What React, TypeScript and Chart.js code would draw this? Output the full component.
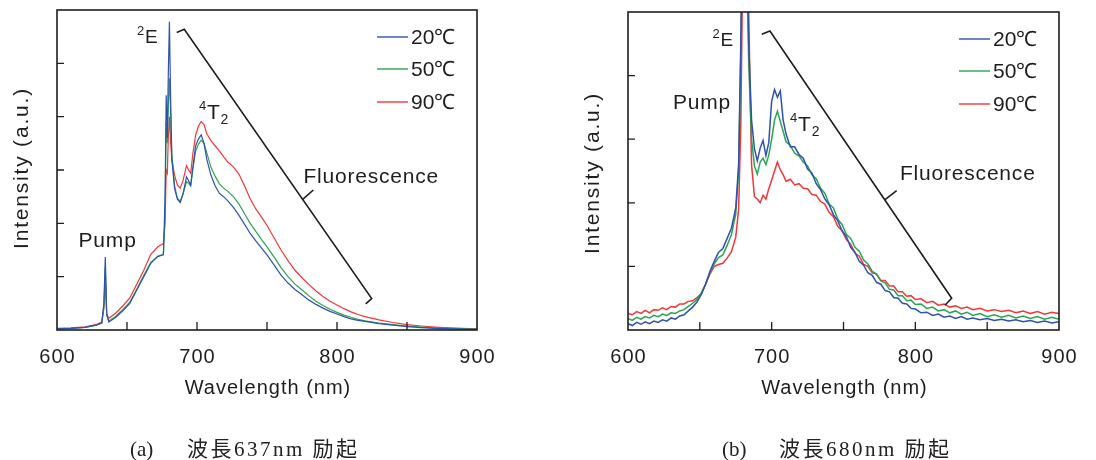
import React, { useEffect, useRef } from "react";
import { Chart, registerables } from "chart.js";
Chart.register(...registerables);

// ---------- data: chart (a) 637 nm excitation ----------
const wavelengthsA = [600, 610, 620, 628, 632, 633.5, 634.5, 635.5, 637, 642, 647, 652, 657, 662, 667, 672, 676, 677.2, 678, 678.8, 679.5, 680.3, 681, 682, 684, 686, 688, 690, 692.5, 694, 695.5, 697, 699, 701, 703, 705, 707, 710, 713, 716, 719, 722, 726, 730, 734, 738, 742, 746, 750, 755, 760, 765, 770, 775, 780, 785, 790, 795, 800, 805, 810, 815, 820, 830, 840, 850, 860, 870, 880, 890, 900];
const a20 = [0.02, 0.03, 0.05, 0.09, 0.13, 0.5, 1.37, 0.3, 0.15, 0.24, 0.36, 0.5, 0.75, 1.0, 1.25, 1.38, 1.41, 2.5, 4.4, 3.6, 4.8, 5.78, 4.6, 3.2, 2.65, 2.45, 2.39, 2.55, 2.87, 2.8, 2.72, 3.05, 3.45, 3.58, 3.66, 3.5, 3.2, 2.9, 2.7, 2.56, 2.5, 2.42, 2.3, 2.15, 1.98, 1.81, 1.67, 1.54, 1.41, 1.22, 1.03, 0.88, 0.76, 0.66, 0.56, 0.48, 0.41, 0.35, 0.3, 0.25, 0.21, 0.18, 0.16, 0.12, 0.09, 0.065, 0.045, 0.03, 0.02, 0.015, 0.01];
const a50 = [0.02, 0.03, 0.05, 0.09, 0.13, 0.45, 1.19, 0.28, 0.17, 0.26, 0.38, 0.52, 0.77, 1.02, 1.27, 1.38, 1.42, 2.2, 3.9, 3.5, 4.2, 4.72, 4.2, 3.3, 2.7, 2.47, 2.41, 2.55, 2.78, 2.75, 2.7, 3.0, 3.35, 3.48, 3.56, 3.5, 3.32, 3.05, 2.88, 2.74, 2.66, 2.6, 2.5, 2.36, 2.18, 2.0, 1.85, 1.7, 1.56, 1.37, 1.17, 1.0, 0.86, 0.75, 0.64, 0.54, 0.46, 0.39, 0.33, 0.28, 0.24, 0.2, 0.17, 0.13, 0.1, 0.075, 0.055, 0.04, 0.03, 0.02, 0.015];
const a90 = [0.03, 0.04, 0.06, 0.1, 0.15, 0.4, 0.94, 0.3, 0.22, 0.32, 0.45, 0.6, 0.86, 1.12, 1.42, 1.56, 1.62, 2.0, 3.0, 2.94, 3.6, 4.0, 3.6, 3.2, 2.9, 2.72, 2.66, 2.8, 3.08, 3.0, 2.94, 3.3, 3.65, 3.82, 3.91, 3.85, 3.68, 3.55, 3.45, 3.36, 3.25, 3.15, 3.06, 2.92, 2.7, 2.46, 2.27, 2.12, 1.96, 1.73, 1.5, 1.3, 1.12, 0.98, 0.85, 0.73, 0.63, 0.54, 0.47, 0.4, 0.34, 0.29, 0.25, 0.19, 0.14, 0.1, 0.075, 0.055, 0.04, 0.03, 0.02];

// ---------- data: chart (b) 680 nm excitation ----------
const wavelengthsB = [600, 603, 606, 609, 612, 615, 618, 621, 624, 627, 630, 633, 636, 639, 642, 645, 648, 651, 654, 657, 660, 663, 666, 669, 672, 675, 677, 678.5, 680, 682, 684, 686, 688, 690, 692, 694, 696, 698, 700, 702, 704, 706, 708, 710, 713, 716, 719, 722, 725, 728, 731, 734, 737, 740, 743, 746, 749, 752, 755, 758, 761, 764, 767, 770, 773, 776, 779, 782, 785, 788, 791, 794, 797, 800, 804, 808, 812, 816, 820, 824, 828, 832, 836, 840, 845, 850, 855, 860, 865, 870, 875, 880, 885, 890, 895, 900];
const b20 = [0.10, 0.07, 0.12, 0.09, 0.13, 0.10, 0.14, 0.12, 0.16, 0.14, 0.19, 0.17, 0.22, 0.24, 0.30, 0.36, 0.44, 0.56, 0.72, 0.92, 1.08, 1.22, 1.28, 1.44, 1.60, 1.92, 2.6, 4.5, 7, 7, 4.5, 3.3, 2.85, 2.66, 2.86, 2.98, 2.74, 2.95, 3.6, 3.78, 3.66, 3.76, 3.3, 3.08, 2.88, 2.88, 2.76, 2.70, 2.53, 2.47, 2.30, 2.21, 2.06, 1.97, 1.81, 1.72, 1.56, 1.47, 1.30, 1.22, 1.08, 1.02, 0.90, 0.86, 0.75, 0.72, 0.62, 0.60, 0.51, 0.50, 0.42, 0.41, 0.34, 0.33, 0.27, 0.28, 0.23, 0.25, 0.20, 0.22, 0.18, 0.21, 0.17, 0.19, 0.16, 0.18, 0.15, 0.17, 0.14, 0.16, 0.13, 0.15, 0.12, 0.14, 0.11, 0.13];
const b50 = [0.18, 0.15, 0.20, 0.17, 0.21, 0.19, 0.23, 0.21, 0.25, 0.23, 0.27, 0.26, 0.30, 0.32, 0.37, 0.42, 0.48, 0.58, 0.72, 0.90, 1.04, 1.14, 1.18, 1.33, 1.50, 1.82, 2.5, 4.3, 7, 7, 4.2, 3.0, 2.58, 2.45, 2.64, 2.70, 2.60, 2.75, 3.0, 3.3, 3.44, 3.28, 3.12, 2.96, 2.90, 2.78, 2.74, 2.64, 2.58, 2.44, 2.38, 2.23, 2.15, 1.98, 1.92, 1.74, 1.66, 1.50, 1.44, 1.30, 1.24, 1.10, 1.04, 0.92, 0.88, 0.77, 0.74, 0.64, 0.63, 0.54, 0.54, 0.46, 0.47, 0.40, 0.41, 0.34, 0.36, 0.30, 0.32, 0.27, 0.30, 0.25, 0.28, 0.23, 0.26, 0.21, 0.24, 0.20, 0.23, 0.19, 0.22, 0.18, 0.21, 0.17, 0.20, 0.17];
const b90 = [0.26, 0.24, 0.29, 0.26, 0.31, 0.27, 0.32, 0.31, 0.35, 0.32, 0.37, 0.36, 0.41, 0.41, 0.45, 0.46, 0.51, 0.57, 0.72, 0.88, 1.00, 1.03, 1.05, 1.13, 1.23, 1.46, 1.9, 3.2, 6, 7, 5, 2.6, 2.10, 2.06, 2.00, 2.12, 2.06, 2.22, 2.36, 2.50, 2.64, 2.52, 2.44, 2.34, 2.37, 2.28, 2.30, 2.23, 2.22, 2.13, 2.12, 2.02, 1.98, 1.85, 1.78, 1.63, 1.56, 1.42, 1.35, 1.21, 1.16, 1.03, 1.00, 0.90, 0.88, 0.78, 0.78, 0.69, 0.69, 0.60, 0.60, 0.53, 0.54, 0.48, 0.49, 0.43, 0.45, 0.39, 0.41, 0.36, 0.38, 0.34, 0.36, 0.32, 0.34, 0.30, 0.32, 0.29, 0.31, 0.27, 0.30, 0.26, 0.29, 0.25, 0.28, 0.26];

const seriesNames = ["20\u2103", "50\u2103", "90\u2103"];
const seriesColors = ["#2f52ad", "#2ba451", "#f0373a"];
const xTickLabels = [600, 700, 800, 900];
const xTickMarks = [650, 700, 750, 800, 850];
const yTicksA = [1, 2, 3, 4, 5];
const yTicksB = [1, 2, 3, 4];

type Part = { t: string; size: number; dy: number };
type Label = { x: number; y: number; parts: Part[] };
type Cfg = {
  yMax: number;
  yTicks: number[];
  bracket: number[][];
  brace: number[][];
  labels: Label[];
  titleYOffset: number;
  lineWidth: number;
};

const cfgA: Cfg = {
  yMax: 6,
  yTicks: yTicksA,
  bracket: [[685.5, 5.58], [690.9, 5.64], [824.8, 0.59], [820.5, 0.49]],
  brace: [[775.9, 2.46], [783.1, 2.625]],
  labels: [
    { x: 657.1, y: 5.387, parts: [{ t: "2", size: 13, dy: -8 }, { t: "E", size: 19, dy: 0 }] },
    { x: 701.4, y: 3.947, parts: [{ t: "4", size: 13, dy: -9 }, { t: "T", size: 21, dy: 0 }, { t: "2", size: 14, dy: 5 }] },
    { x: 615.4, y: 1.556, parts: [{ t: "Pump", size: 21, dy: 0 }] },
    { x: 776, y: 2.762, parts: [{ t: "Fluorescence", size: 21, dy: 0 }] },
  ],
  titleYOffset: -2,
  lineWidth: 1.2,
};

const cfgB: Cfg = {
  yMax: 5,
  yTicks: yTicksB,
  bracket: [[693.1, 4.65], [698.8, 4.7], [825.3, 0.5], [820.6, 0.39]],
  brace: [[778.9, 2.05], [787.0, 2.19]],
  labels: [
    { x: 658.8, y: 4.467, parts: [{ t: "2", size: 13, dy: -8 }, { t: "E", size: 19, dy: 0 }] },
    { x: 712.8, y: 3.135, parts: [{ t: "4", size: 13, dy: -9 }, { t: "T", size: 21, dy: 0 }, { t: "2", size: 14, dy: 5 }] },
    { x: 631.3, y: 3.48, parts: [{ t: "Pump", size: 21, dy: 0 }] },
    { x: 789.3, y: 2.351, parts: [{ t: "Fluorescence", size: 21, dy: 0 }] },
  ],
  titleYOffset: 2,
  lineWidth: 1.5,
};

const FONT = '"Liberation Sans", Arial, sans-serif';
const INK = "#1e1e1e";

function decorPlugin(cfg: Cfg) {
  return {
    id: "decor",
    afterDatasetsDraw(chart: any) {
      const { ctx, chartArea: ca, scales } = chart;
      const x = scales.x;
      const y = scales.y;
      const px = (v: number) => x.getPixelForValue(v);
      const py = (v: number) => y.getPixelForValue(v);
      ctx.save();
      ctx.strokeStyle = INK;
      ctx.fillStyle = INK;
      // frame
      ctx.lineWidth = 1.6;
      ctx.strokeRect(ca.left, ca.top, ca.right - ca.left, ca.bottom - ca.top);
      // ticks (inward)
      ctx.lineWidth = 1.3;
      ctx.beginPath();
      xTickMarks.forEach((v) => {
        ctx.moveTo(px(v), ca.bottom);
        ctx.lineTo(px(v), ca.bottom - 8);
      });
      cfg.yTicks.forEach((v) => {
        ctx.moveTo(ca.left, py(v));
        ctx.lineTo(ca.left + 7, py(v));
      });
      ctx.stroke();
      // tick labels
      (ctx as any).letterSpacing = "1px";
      ctx.font = `20px ${FONT}`;
      ctx.textAlign = "center";
      ctx.textBaseline = "middle";
      xTickLabels.forEach((v) => ctx.fillText(String(v), px(v) + 0.5, ca.bottom + 27));
      // axis titles
      ctx.textBaseline = "alphabetic";
      ctx.font = `20px ${FONT}`;
      ctx.fillText("Wavelength (nm)", (ca.left + ca.right) / 2 + 1, ca.bottom + 64);
      ctx.save();
      (ctx as any).letterSpacing = "1.8px";
      ctx.translate(ca.left - 35, (ca.top + ca.bottom) / 2 + cfg.titleYOffset);
      ctx.rotate(-Math.PI / 2);
      ctx.textBaseline = "middle";
      ctx.font = `21px ${FONT}`;
      ctx.fillText("Intensity (a.u.)", 0, 0);
      ctx.restore();
      // bracket
      ctx.lineWidth = 1.6;
      ctx.beginPath();
      cfg.bracket.forEach((p, i) => {
        if (i === 0) ctx.moveTo(px(p[0]), py(p[1]));
        else ctx.lineTo(px(p[0]), py(p[1]));
      });
      ctx.moveTo(px(cfg.brace[0][0]), py(cfg.brace[0][1]));
      ctx.lineTo(px(cfg.brace[1][0]), py(cfg.brace[1][1]));
      ctx.stroke();
      // labels
      ctx.textAlign = "left";
      ctx.textBaseline = "alphabetic";
      (ctx as any).letterSpacing = "0.8px";
      cfg.labels.forEach((lb) => {
        let cx = px(lb.x);
        const by = py(lb.y);
        lb.parts.forEach((p) => {
          ctx.font = `${p.size}px ${FONT}`;
          ctx.fillText(p.t, cx, by + p.dy);
          cx += ctx.measureText(p.t).width;
        });
      });
      // legend
      const rows = [27, 59, 92];
      seriesNames.forEach((name, i) => {
        const ry = ca.top + rows[i];
        ctx.strokeStyle = seriesColors[i];
        ctx.lineWidth = 1.4;
        ctx.beginPath();
        ctx.moveTo(ca.right - 100, ry);
        ctx.lineTo(ca.right - 69, ry);
        ctx.stroke();
        ctx.fillStyle = INK;
        ctx.font = `21px ${FONT}`;
        ctx.textBaseline = "middle";
        (ctx as any).letterSpacing = "0px";
        ctx.fillText(name, ca.right - 66, ry + 1);
      });
      ctx.restore();
    },
  };
}

function SpectrumChart(props: {
  wl: number[];
  series: number[][];
  cfg: Cfg;
  padding: { left: number; right: number; top: number; bottom: number };
  left: number;
}) {
  const ref = useRef<HTMLCanvasElement>(null);
  useEffect(() => {
    if (!ref.current) return;
    const datasets = props.series.map((vals, i) => ({
      label: seriesNames[i],
      data: props.wl.map((w, j) => ({ x: w, y: vals[j] })),
      borderColor: seriesColors[i],
      backgroundColor: seriesColors[i],
      borderWidth: props.cfg.lineWidth,
      pointRadius: 0,
      tension: 0,
      fill: false,
    }));
    const chart = new Chart(ref.current, {
      type: "line",
      data: { datasets },
      options: {
        responsive: false,
        animation: false,
        devicePixelRatio: 1,
        layout: { padding: props.padding },
        plugins: { legend: { display: false }, tooltip: { enabled: false } },
        scales: {
          x: { type: "linear", min: 600, max: 900, display: false },
          y: { type: "linear", min: 0, max: props.cfg.yMax, display: false },
        },
      },
      plugins: [decorPlugin(props.cfg)],
    } as any);
    return () => chart.destroy();
  }, []);
  return (
    <canvas
      ref={ref}
      width={548}
      height={460}
      style={{ position: "absolute", left: props.left, top: 0, width: 548, height: 460 }}
    />
  );
}

const captionStyle: React.CSSProperties = {
  position: "absolute",
  top: 438,
  fontFamily: '"Liberation Serif", "Noto Sans CJK JP", serif',
  fontSize: 21,
  lineHeight: "22px",
  color: "#222",
  whiteSpace: "nowrap",
};

export default function App() {
  return (
    <div style={{ position: "absolute", left: 0, top: 0, width: 1096, height: 460, background: "#fff", overflow: "hidden" }}>
      <SpectrumChart
        wl={wavelengthsA}
        series={[a20, a50, a90]}
        cfg={cfgA}
        padding={{ left: 57, right: 71, top: 10, bottom: 130 }}
        left={0}
      />
      <SpectrumChart
        wl={wavelengthsB}
        series={[b20, b50, b90]}
        cfg={cfgB}
        padding={{ left: 80, right: 37, top: 12, bottom: 130 }}
        left={548}
      />
      <div style={{ ...captionStyle, left: 130 }}>(a)</div>
      <div style={{ ...captionStyle, left: 187, letterSpacing: 2.5 }}>波長637nm 励起</div>
      <div style={{ ...captionStyle, left: 722 }}>(b)</div>
      <div style={{ ...captionStyle, left: 779, letterSpacing: 2.5 }}>波長680nm 励起</div>
    </div>
  );
}
